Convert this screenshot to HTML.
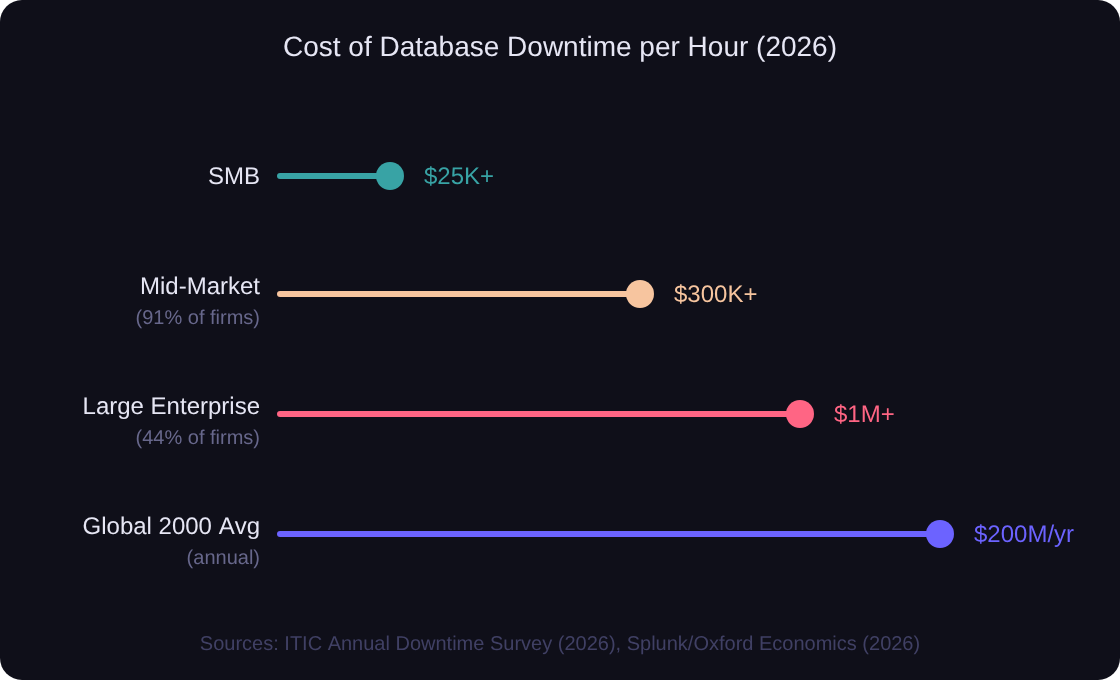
<!DOCTYPE html>
<html>
<head>
<meta charset="utf-8">
<title>Cost of Database Downtime per Hour (2026)</title>
<style>
html,body{margin:0;padding:0;background:#ffffff;}
body{width:1120px;height:680px;overflow:hidden;}
svg{display:block;will-change:transform;}
text{font-family:"Liberation Sans",Arial,Helvetica,sans-serif;text-rendering:geometricPrecision;font-kerning:none;}
</style>
</head>
<body>
<svg width="1120" height="680" viewBox="0 0 1120 680">
  <rect x="0" y="0" width="1120" height="680" rx="22" ry="22" fill="#0f0f19"/>
  <text x="560" y="56" text-anchor="middle" font-size="28" fill="#e6e6f4">Cost of Database Downtime per Hour (2026)</text>

  <!-- SMB -->
  <text x="260" y="184" text-anchor="end" font-size="24" fill="#e6e6f4">SMB</text>
  <line x1="280" y1="176" x2="390" y2="176" stroke="#38a3a5" stroke-width="6" stroke-linecap="round"/>
  <circle cx="390" cy="176" r="14" fill="#38a3a5"/>
  <text x="424" y="184" font-size="24" fill="#38a3a5">$25K+</text>

  <!-- Mid-Market -->
  <text x="260" y="294" text-anchor="end" font-size="24" fill="#e6e6f4">Mid-Market</text>
  <text x="260" y="324" text-anchor="end" font-size="20" fill="#67678b">(91% of firms)</text>
  <line x1="280" y1="294" x2="640" y2="294" stroke="#f7c59f" stroke-width="6" stroke-linecap="round"/>
  <circle cx="640" cy="294" r="14" fill="#f7c59f"/>
  <text x="674" y="302" font-size="24" fill="#f7c59f">$300K+</text>

  <!-- Large Enterprise -->
  <text x="260" y="414" text-anchor="end" font-size="24" fill="#e6e6f4">Large Enterprise</text>
  <text x="260" y="444" text-anchor="end" font-size="20" fill="#67678b">(44% of firms)</text>
  <line x1="280" y1="414" x2="800" y2="414" stroke="#ff6584" stroke-width="6" stroke-linecap="round"/>
  <circle cx="800" cy="414" r="14" fill="#ff6584"/>
  <text x="834" y="422" font-size="24" fill="#ff6584">$1M+</text>

  <!-- Global 2000 -->
  <text x="260" y="534" text-anchor="end" font-size="24" fill="#e6e6f4">Global 2000 Avg</text>
  <text x="260" y="564" text-anchor="end" font-size="20" fill="#67678b">(annual)</text>
  <line x1="280" y1="534" x2="940" y2="534" stroke="#6c63ff" stroke-width="6" stroke-linecap="round"/>
  <circle cx="940" cy="534" r="14" fill="#6c63ff"/>
  <text x="974" y="542" font-size="24" fill="#6c63ff">$200M/yr</text>

  <text x="560" y="650" text-anchor="middle" font-size="20" fill="#404064">Sources: ITIC Annual Downtime Survey (2026), Splunk/Oxford Economics (2026)</text>
</svg>
</body>
</html>
